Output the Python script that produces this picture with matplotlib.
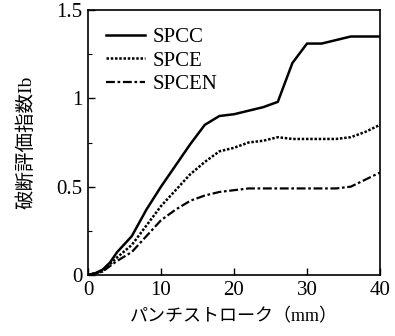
import matplotlib
matplotlib.use("Agg")
import matplotlib.pyplot as plt
from matplotlib.ticker import MultipleLocator

# punch stroke (mm) and fracture index Ib
spcc_x = [0, 1, 2, 3, 4, 6, 8, 10, 12, 14, 16, 18, 20, 22, 24, 26, 28, 30, 32, 34, 36, 38, 40]
spcc_y = [0, 0.01, 0.03, 0.07, 0.13, 0.22, 0.37, 0.50, 0.62, 0.74, 0.85, 0.90, 0.91, 0.93, 0.95, 0.98, 1.20, 1.31, 1.31, 1.33, 1.35, 1.35, 1.35]

spce_x = [0, 1, 2, 3, 4, 6, 8, 10, 12, 14, 16, 18, 20, 22, 24, 26, 28, 30, 32, 34, 36, 38, 40]
spce_y = [0, 0.01, 0.02, 0.06, 0.10, 0.17, 0.28, 0.39, 0.48, 0.57, 0.64, 0.70, 0.72, 0.75, 0.76, 0.78, 0.77, 0.77, 0.77, 0.77, 0.78, 0.81, 0.85]

spcen_x = [0, 1, 2, 3, 4, 6, 8, 10, 12, 14, 16, 18, 20, 22, 24, 26, 28, 30, 32, 34, 36, 38, 40]
spcen_y = [0, 0.01, 0.02, 0.05, 0.08, 0.13, 0.22, 0.31, 0.37, 0.42, 0.45, 0.47, 0.48, 0.49, 0.49, 0.49, 0.49, 0.49, 0.49, 0.49, 0.50, 0.54, 0.58]

labels = ["SPCC", "SPCE", "SPCEN"]
x_ticks = [0, 10, 20, 30, 40]
y_ticks = [0, 0.5, 1, 1.5]
y_tick_labels = ["0", "0.5", "1", "1.5"]

plt.rcParams['font.family'] = ['Liberation Serif', 'Noto Sans CJK JP']
plt.rcParams['font.size'] = 15

fig = plt.figure(figsize=(3.95, 3.36), dpi=100)
ax = fig.add_axes([88 / 395, 61 / 336, 292 / 395, 265 / 336])

ax.plot(spcc_x, spcc_y, color='black', lw=1.8, ls='-', label=labels[0])
ax.plot(spce_x, spce_y, color='black', lw=1.8, ls=(0, (1.0, 0.7)), label=labels[1])
ax.plot(spcen_x, spcen_y, color='black', lw=1.6, ls=(0, (4, 1.2, 1.2, 1.2)), label=labels[2])

ax.set_xlim(0, 40)
ax.set_ylim(0, 1.5)
ax.set_xticks(x_ticks)
ax.set_yticks(y_ticks)
ax.set_yticklabels(y_tick_labels)
ax.yaxis.set_minor_locator(MultipleLocator(0.25))
ax.tick_params(direction='in', length=5, width=1, pad=4)
ax.tick_params(which='minor', direction='in', length=3, width=0.8)
for sp in ax.spines.values():
    sp.set_linewidth(1.2)

ax.set_xlabel("パンチストローク（mm）", family=['Liberation Serif', 'Noto Sans CJK JP'],
              fontsize=13, labelpad=6)
ax.set_ylabel("破断評価指数Ib", family=['Liberation Serif', 'Noto Sans CJK JP'],
              fontsize=14, labelpad=15)

ax.legend(loc='upper left', frameon=False, handlelength=1.9, handletextpad=0.35,
          labelspacing=0.18, borderaxespad=0.45, fontsize=15)

fig.savefig("out.png", dpi=100)
